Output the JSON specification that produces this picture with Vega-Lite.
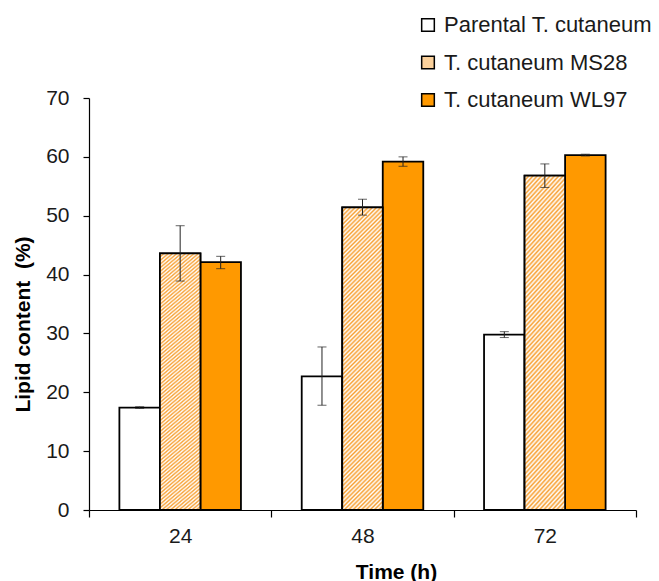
{
  "$schema": "https://vega.github.io/schema/vega-lite/v6.json",
  "width": 547,
  "height": 412,
  "autosize": {"type": "none"},
  "padding": {"left": 89, "top": 98, "right": 23, "bottom": 71},
  "background": "white",
  "config": {"view": {"stroke": null}, "font": "Liberation Sans", "axis": {"grid": false}},
  "data": {"values": [
    {"Time": "24", "Strain": "Parental T. cutaneum", "value": 17.4, "lo": 17.25, "hi": 17.55},
    {"Time": "24", "Strain": "T. cutaneum MS28", "value": 43.6, "lo": 38.9, "hi": 48.3},
    {"Time": "24", "Strain": "T. cutaneum WL97", "value": 42.1, "lo": 41.0, "hi": 43.1},
    {"Time": "48", "Strain": "Parental T. cutaneum", "value": 22.7, "lo": 17.8, "hi": 27.7},
    {"Time": "48", "Strain": "T. cutaneum MS28", "value": 51.4, "lo": 50.1, "hi": 52.8},
    {"Time": "48", "Strain": "T. cutaneum WL97", "value": 59.2, "lo": 58.4, "hi": 60.0},
    {"Time": "72", "Strain": "Parental T. cutaneum", "value": 29.8, "lo": 29.3, "hi": 30.3},
    {"Time": "72", "Strain": "T. cutaneum MS28", "value": 56.8, "lo": 54.8, "hi": 58.8},
    {"Time": "72", "Strain": "T. cutaneum WL97", "value": 60.3, "lo": 60.15, "hi": 60.45}
  ]},
  "encoding": {
    "x": {
      "field": "Time", "type": "nominal", "sort": ["24", "48", "72"],
      "scale": {"paddingInner": 0, "paddingOuter": 0},
      "axis": {
        "title": "Time (h)", "labelAngle": 0, "tickBand": "extent", "tickSize": 7, "labelPadding": 8,
        "labelFontSize": 21, "labelColor": "#1a1a1a", "domainColor": "#000", "tickColor": "#000",
        "domainWidth": 1.2, "tickWidth": 1.2,
        "titleFontSize": 21, "titleFontWeight": "bold", "titleColor": "#000",
        "titleX": 307, "titleY": 68, "titleBaseline": "alphabetic", "titleAlign": "center"
      }
    },
    "xOffset": {
      "field": "Strain", "type": "nominal",
      "scale": {"domain": ["Parental T. cutaneum", "T. cutaneum MS28", "T. cutaneum WL97"], "paddingInner": 0, "paddingOuter": 0.75}
    }
  },
  "layer": [
    {
      "mark": {"type": "bar", "stroke": "#000", "strokeWidth": 1.8},
      "encoding": {
        "y": {
          "field": "value", "type": "quantitative", "scale": {"domain": [0, 70]},
          "axis": {
            "title": "Lipid content \u00a0(%)", "values": [0, 5, 10, 15, 20, 25, 30, 35, 40, 45, 50, 55, 60, 65, 70],
            "labelExpr": "datum.value % 10 === 0 ? datum.label : ''", "labelOverlap": false,
            "tickSize": 6, "labelPadding": 14, "labelFontSize": 21, "labelColor": "#1a1a1a",
            "domainColor": "#000", "tickColor": "#000", "domainWidth": 1.2, "tickWidth": 1.2,
            "titleFontSize": 21, "titleFontWeight": "bold", "titleColor": "#000", "titleAngle": 270,
            "titleX": -66, "titleY": 226, "titleAlign": "center", "titleBaseline": "middle"
          }
        },
        "fill": {
          "field": "Strain", "type": "nominal",
          "scale": {"domain": ["Parental T. cutaneum", "T. cutaneum MS28", "T. cutaneum WL97"], "range": ["#ffffff", "#fbd19c", "#ff9900"]},
          "legend": {
            "title": null, "orient": "none", "legendX": 328, "legendY": -84, "symbolType": "square",
            "symbolSize": 160, "symbolStrokeColor": "#000", "symbolStrokeWidth": 1.5,
            "labelFontSize": 22, "labelColor": "#1a1a1a", "labelOffset": 5, "rowPadding": 15.5,
            "padding": 0, "labelLimit": 400
          }
        }
      }
    },
    {
      "transform": [{"filter": "datum.Strain === 'T. cutaneum MS28'"}],
      "mark": {
        "type": "bar", "stroke": "#000", "strokeWidth": 1.8,
        "fill": {
          "gradient": "linear", "x1": 0, "y1": 0, "x2": 0.1489, "y2": 1.114,
          "stops": [
            {"offset": 0, "color": "#f7a033"}, {"offset": 0.00625, "color": "#ffffff"}, {"offset": 0.0125, "color": "#f7a033"}, {"offset": 0.01875, "color": "#ffffff"}, {"offset": 0.025, "color": "#f7a033"}, {"offset": 0.03125, "color": "#ffffff"}, {"offset": 0.0375, "color": "#f7a033"}, {"offset": 0.04375, "color": "#ffffff"},
            {"offset": 0.05, "color": "#f7a033"}, {"offset": 0.05625, "color": "#ffffff"}, {"offset": 0.0625, "color": "#f7a033"}, {"offset": 0.06875, "color": "#ffffff"}, {"offset": 0.075, "color": "#f7a033"}, {"offset": 0.08125, "color": "#ffffff"}, {"offset": 0.0875, "color": "#f7a033"}, {"offset": 0.09375, "color": "#ffffff"},
            {"offset": 0.1, "color": "#f7a033"}, {"offset": 0.10625, "color": "#ffffff"}, {"offset": 0.1125, "color": "#f7a033"}, {"offset": 0.11875, "color": "#ffffff"}, {"offset": 0.125, "color": "#f7a033"}, {"offset": 0.13125, "color": "#ffffff"}, {"offset": 0.1375, "color": "#f7a033"}, {"offset": 0.14375, "color": "#ffffff"},
            {"offset": 0.15, "color": "#f7a033"}, {"offset": 0.15625, "color": "#ffffff"}, {"offset": 0.1625, "color": "#f7a033"}, {"offset": 0.16875, "color": "#ffffff"}, {"offset": 0.175, "color": "#f7a033"}, {"offset": 0.18125, "color": "#ffffff"}, {"offset": 0.1875, "color": "#f7a033"}, {"offset": 0.19375, "color": "#ffffff"},
            {"offset": 0.2, "color": "#f7a033"}, {"offset": 0.20625, "color": "#ffffff"}, {"offset": 0.2125, "color": "#f7a033"}, {"offset": 0.21875, "color": "#ffffff"}, {"offset": 0.225, "color": "#f7a033"}, {"offset": 0.23125, "color": "#ffffff"}, {"offset": 0.2375, "color": "#f7a033"}, {"offset": 0.24375, "color": "#ffffff"},
            {"offset": 0.25, "color": "#f7a033"}, {"offset": 0.25625, "color": "#ffffff"}, {"offset": 0.2625, "color": "#f7a033"}, {"offset": 0.26875, "color": "#ffffff"}, {"offset": 0.275, "color": "#f7a033"}, {"offset": 0.28125, "color": "#ffffff"}, {"offset": 0.2875, "color": "#f7a033"}, {"offset": 0.29375, "color": "#ffffff"},
            {"offset": 0.3, "color": "#f7a033"}, {"offset": 0.30625, "color": "#ffffff"}, {"offset": 0.3125, "color": "#f7a033"}, {"offset": 0.31875, "color": "#ffffff"}, {"offset": 0.325, "color": "#f7a033"}, {"offset": 0.33125, "color": "#ffffff"}, {"offset": 0.3375, "color": "#f7a033"}, {"offset": 0.34375, "color": "#ffffff"},
            {"offset": 0.35, "color": "#f7a033"}, {"offset": 0.35625, "color": "#ffffff"}, {"offset": 0.3625, "color": "#f7a033"}, {"offset": 0.36875, "color": "#ffffff"}, {"offset": 0.375, "color": "#f7a033"}, {"offset": 0.38125, "color": "#ffffff"}, {"offset": 0.3875, "color": "#f7a033"}, {"offset": 0.39375, "color": "#ffffff"},
            {"offset": 0.4, "color": "#f7a033"}, {"offset": 0.40625, "color": "#ffffff"}, {"offset": 0.4125, "color": "#f7a033"}, {"offset": 0.41875, "color": "#ffffff"}, {"offset": 0.425, "color": "#f7a033"}, {"offset": 0.43125, "color": "#ffffff"}, {"offset": 0.4375, "color": "#f7a033"}, {"offset": 0.44375, "color": "#ffffff"},
            {"offset": 0.45, "color": "#f7a033"}, {"offset": 0.45625, "color": "#ffffff"}, {"offset": 0.4625, "color": "#f7a033"}, {"offset": 0.46875, "color": "#ffffff"}, {"offset": 0.475, "color": "#f7a033"}, {"offset": 0.48125, "color": "#ffffff"}, {"offset": 0.4875, "color": "#f7a033"}, {"offset": 0.49375, "color": "#ffffff"},
            {"offset": 0.5, "color": "#f7a033"}, {"offset": 0.50625, "color": "#ffffff"}, {"offset": 0.5125, "color": "#f7a033"}, {"offset": 0.51875, "color": "#ffffff"}, {"offset": 0.525, "color": "#f7a033"}, {"offset": 0.53125, "color": "#ffffff"}, {"offset": 0.5375, "color": "#f7a033"}, {"offset": 0.54375, "color": "#ffffff"},
            {"offset": 0.55, "color": "#f7a033"}, {"offset": 0.55625, "color": "#ffffff"}, {"offset": 0.5625, "color": "#f7a033"}, {"offset": 0.56875, "color": "#ffffff"}, {"offset": 0.575, "color": "#f7a033"}, {"offset": 0.58125, "color": "#ffffff"}, {"offset": 0.5875, "color": "#f7a033"}, {"offset": 0.59375, "color": "#ffffff"},
            {"offset": 0.6, "color": "#f7a033"}, {"offset": 0.60625, "color": "#ffffff"}, {"offset": 0.6125, "color": "#f7a033"}, {"offset": 0.61875, "color": "#ffffff"}, {"offset": 0.625, "color": "#f7a033"}, {"offset": 0.63125, "color": "#ffffff"}, {"offset": 0.6375, "color": "#f7a033"}, {"offset": 0.64375, "color": "#ffffff"},
            {"offset": 0.65, "color": "#f7a033"}, {"offset": 0.65625, "color": "#ffffff"}, {"offset": 0.6625, "color": "#f7a033"}, {"offset": 0.66875, "color": "#ffffff"}, {"offset": 0.675, "color": "#f7a033"}, {"offset": 0.68125, "color": "#ffffff"}, {"offset": 0.6875, "color": "#f7a033"}, {"offset": 0.69375, "color": "#ffffff"},
            {"offset": 0.7, "color": "#f7a033"}, {"offset": 0.70625, "color": "#ffffff"}, {"offset": 0.7125, "color": "#f7a033"}, {"offset": 0.71875, "color": "#ffffff"}, {"offset": 0.725, "color": "#f7a033"}, {"offset": 0.73125, "color": "#ffffff"}, {"offset": 0.7375, "color": "#f7a033"}, {"offset": 0.74375, "color": "#ffffff"},
            {"offset": 0.75, "color": "#f7a033"}, {"offset": 0.75625, "color": "#ffffff"}, {"offset": 0.7625, "color": "#f7a033"}, {"offset": 0.76875, "color": "#ffffff"}, {"offset": 0.775, "color": "#f7a033"}, {"offset": 0.78125, "color": "#ffffff"}, {"offset": 0.7875, "color": "#f7a033"}, {"offset": 0.79375, "color": "#ffffff"},
            {"offset": 0.8, "color": "#f7a033"}, {"offset": 0.80625, "color": "#ffffff"}, {"offset": 0.8125, "color": "#f7a033"}, {"offset": 0.81875, "color": "#ffffff"}, {"offset": 0.825, "color": "#f7a033"}, {"offset": 0.83125, "color": "#ffffff"}, {"offset": 0.8375, "color": "#f7a033"}, {"offset": 0.84375, "color": "#ffffff"},
            {"offset": 0.85, "color": "#f7a033"}, {"offset": 0.85625, "color": "#ffffff"}, {"offset": 0.8625, "color": "#f7a033"}, {"offset": 0.86875, "color": "#ffffff"}, {"offset": 0.875, "color": "#f7a033"}, {"offset": 0.88125, "color": "#ffffff"}, {"offset": 0.8875, "color": "#f7a033"}, {"offset": 0.89375, "color": "#ffffff"},
            {"offset": 0.9, "color": "#f7a033"}, {"offset": 0.90625, "color": "#ffffff"}, {"offset": 0.9125, "color": "#f7a033"}, {"offset": 0.91875, "color": "#ffffff"}, {"offset": 0.925, "color": "#f7a033"}, {"offset": 0.93125, "color": "#ffffff"}, {"offset": 0.9375, "color": "#f7a033"}, {"offset": 0.94375, "color": "#ffffff"},
            {"offset": 0.95, "color": "#f7a033"}, {"offset": 0.95625, "color": "#ffffff"}, {"offset": 0.9625, "color": "#f7a033"}, {"offset": 0.96875, "color": "#ffffff"}, {"offset": 0.975, "color": "#f7a033"}, {"offset": 0.98125, "color": "#ffffff"}, {"offset": 0.9875, "color": "#f7a033"}, {"offset": 0.99375, "color": "#ffffff"},
            {"offset": 1, "color": "#f7a033"}
          ]
        }
      },
      "encoding": {
        "y": {"field": "value", "type": "quantitative", "scale": {"domain": [0, 70]}}
      }
    },
    {
      "mark": {"type": "rule", "color": "#222222", "strokeWidth": 1},
      "encoding": {
        "y": {"field": "lo", "type": "quantitative", "scale": {"domain": [0, 70]}},
        "y2": {"field": "hi"}
      }
    },
    {
      "mark": {"type": "tick", "color": "#222222", "thickness": 1, "size": 9},
      "encoding": {
        "y": {"field": "lo", "type": "quantitative", "scale": {"domain": [0, 70]}}
      }
    },
    {
      "mark": {"type": "tick", "color": "#222222", "thickness": 1, "size": 9},
      "encoding": {
        "y": {"field": "hi", "type": "quantitative", "scale": {"domain": [0, 70]}}
      }
    }
  ]
}
